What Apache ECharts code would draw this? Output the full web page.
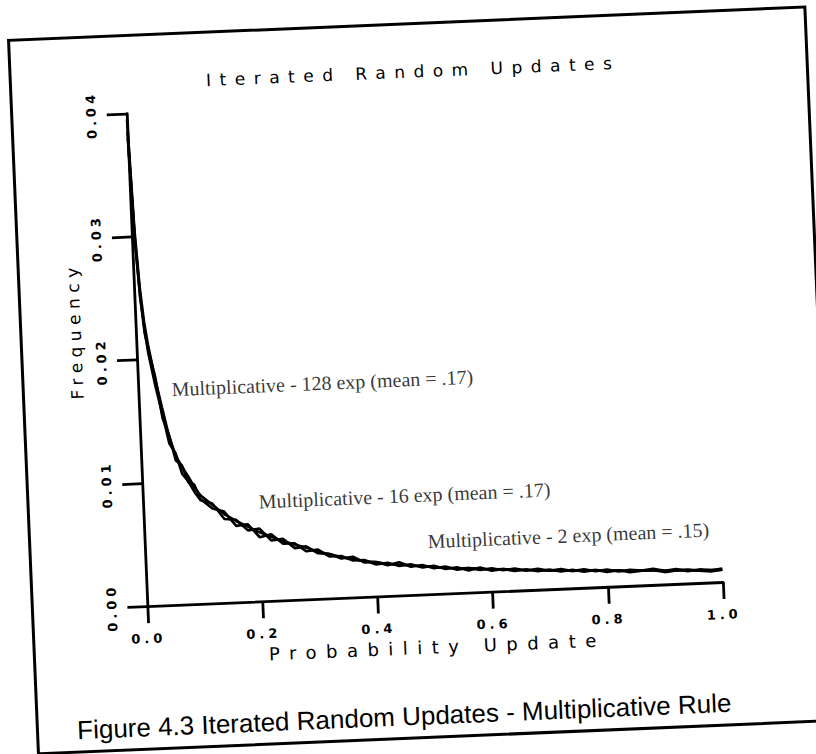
<!DOCTYPE html>
<html>
<head>
<meta charset="utf-8">
<script src="https://cdn.jsdelivr.net/npm/echarts@6/dist/echarts.min.js"></script>
<style>
html, body { margin: 0; padding: 0; background: #fff; overflow: hidden; width: 816px; height: 754px; }
/* the scanned page sits a little crooked, so the whole drawing is turned */
#chart { position: absolute; left: -22px; top: -23px; width: 860px; height: 800px;
  transform: rotate(-2.4deg); transform-origin: 50% 50%; }
</style>
</head>
<body>
<div id="chart"></div>
<script>
const titleText = 'Iterated Random Updates';
const captionText = 'Figure 4.3 Iterated Random Updates - Multiplicative Rule';
const xName = 'Probability Update';
const yName = 'Frequency';

// bin positions (probability update)
const xs = [0, 0.005, 0.01, 0.015, 0.02, 0.03, 0.04, 0.05, 0.06, 0.07, 0.08, 0.09, 0.10,
  0.12, 0.14, 0.16, 0.18, 0.20, 0.22, 0.24, 0.26, 0.28, 0.30, 0.32, 0.34, 0.36, 0.38, 0.40,
  0.42, 0.44, 0.46, 0.48, 0.50, 0.52, 0.54, 0.56, 0.58, 0.60, 0.62, 0.64, 0.66, 0.68, 0.70,
  0.72, 0.74, 0.76, 0.78, 0.80, 0.82, 0.84, 0.86, 0.88, 0.90, 0.92, 0.94, 0.96, 0.98, 1.00];

// frequencies
const exp128 = [.0395, .0305, .0258, .0230, .0212, .0184, .0160, .0137, .0121, .0112,
  .0104, .0095, .0088, .0080, .0072, .0066, .0061, .0056, .0052, .0048,
  .0045, .0042, .0038, .0036, .0033, .0031, .0029, .0028, .0026, .0025,
  .0024, .0023, .0022, .0021, .0020, .0020, .0019, .0018, .0018, .0017,
  .0016, .0016, .0015, .0015, .0014, .0014, .0014, .0013, .0013, .0012,
  .0012, .0012, .0011, .0011, .0011, .0010, .0010, .0010];
const exp16 = [.0385, .0295, .0250, .0226, .0205, .0178, .0155, .0131, .0123, .0106,
  .0100, .0091, .0084, .0081, .0068, .0067, .0058, .0059, .0049, .0050,
  .0042, .0043, .0037, .0036, .0032, .0033, .0028, .0028, .0025, .0027,
  .0023, .0024, .0021, .0022, .0019, .0020, .0018, .0019, .0017, .0018,
  .0016, .0017, .0015, .0016, .0014, .0015, .0013, .0014, .0012, .0013,
  .0012, .0013, .0011, .0012, .0010, .0011, .0010, .0011];
const exp2 = [.0380, .0298, .0252, .0222, .0208, .0186, .0152, .0138, .0117, .0113,
  .0099, .0097, .0085, .0077, .0074, .0062, .0063, .0052, .0054, .0046,
  .0046, .0039, .0040, .0034, .0034, .0030, .0030, .0026, .0027, .0024,
  .0025, .0022, .0023, .0020, .0021, .0018, .0020, .0017, .0018, .0016,
  .0017, .0015, .0016, .0014, .0015, .0013, .0014, .0012, .0013, .0011,
  .0012, .0012, .0010, .0011, .0011, .0010, .0009, .0010];

const notes = ['Multiplicative - 128 exp (mean = .17)',
  'Multiplicative - 16 exp (mean = .17)',
  'Multiplicative - 2 exp (mean = .15)'];
const notePos = [[0.057, 0.0175], [0.20, 0.0081], [0.49, 0.0043]];

const ink = '#000';
const chartDom = document.getElementById('chart');
const myChart = echarts.init(chartDom, null, { renderer: 'svg' });

const curve = (vals) => ({
  type: 'line',
  data: xs.map((x, i) => [x, vals[i]]),
  symbol: 'none',
  lineStyle: { color: ink, width: 2.6 },
  silent: true
});

const option = {
  animation: false,
  backgroundColor: '#fff',
  grid: { left: 160, right: 124, top: 125, bottom: 182 },
  xAxis: {
    type: 'value',
    min: 0,
    max: 1,
    interval: 0.2,
    name: xName,
    nameLocation: 'middle',
    nameGap: 36,
    nameTextStyle: { fontFamily: 'DejaVu Sans', fontSize: 18, color: ink },
    axisLine: { lineStyle: { color: ink, width: 2.8 } },
    axisTick: { length: 17, lineStyle: { color: ink, width: 2.8 } },
    axisLabel: {
      margin: 26,
      fontFamily: 'DejaVu Sans',
      fontWeight: 'bold',
      fontSize: 13,
      color: ink,
      formatter: (v) => v.toFixed(1)
    },
    splitLine: { show: false }
  },
  yAxis: {
    type: 'value',
    min: 0,
    max: 0.04,
    interval: 0.01,
    axisLine: { show: true, lineStyle: { color: ink, width: 2.8 } },
    axisTick: { show: true, length: 20, lineStyle: { color: ink, width: 2.8 } },
    axisLabel: {
      rotate: 90,
      margin: 29,
      fontFamily: 'DejaVu Sans',
      fontWeight: 'bold',
      fontSize: 13,
      color: ink,
      formatter: (v) => v.toFixed(2)
    },
    splitLine: { show: false }
  },
  graphic: [
    {
      type: 'rect',
      shape: { x: 45, y: 47, width: 797, height: 714 },
      style: { fill: 'none', stroke: ink, lineWidth: 3 }
    },
    {
      type: 'text',
      x: 448,
      y: 95,
      style: {
        text: titleText,
        fontFamily: 'DejaVu Sans',
        fontSize: 17,
        fill: ink,
        textAlign: 'center',
        textVerticalAlign: 'middle',
        align: 'center',
        verticalAlign: 'middle'
      }
    },
    {
      type: 'text',
      x: 99,
      y: 340,
      rotation: Math.PI / 2,
      style: {
        text: yName,
        fontFamily: 'DejaVu Sans',
        fontSize: 17,
        fill: ink,
        textAlign: 'center',
        textVerticalAlign: 'middle',
        align: 'center',
        verticalAlign: 'middle'
      }
    },
    {
      type: 'text',
      x: 412,
      y: 739,
      style: {
        text: captionText,
        fontFamily: 'Liberation Sans',
        fontSize: 26,
        fill: ink,
        textAlign: 'center',
        textVerticalAlign: 'middle',
        align: 'center',
        verticalAlign: 'middle'
      }
    }
  ],
  series: [
    curve(exp128),
    curve(exp16),
    curve(exp2),
    {
      type: 'scatter',
      silent: true,
      symbolSize: 1,
      itemStyle: { color: 'rgba(0,0,0,0)' },
      data: notePos.map((p, i) => ({ value: p, name: notes[i] })),
      label: {
        show: true,
        position: 'right',
        distance: 0,
        formatter: '{b}',
        fontFamily: 'Liberation Serif',
        fontSize: 20,
        color: ink
      }
    }
  ]
};

myChart.setOption(option);

// the plotter font is widely spaced; svg text takes letter-spacing
const spacing = (s) => {
  if (s === titleText) return '8.5px';
  if (s === xName) return '9.5px';
  if (s === yName) return '5.5px';
  if (/^\d\.\d+$/.test(s)) return '4px';
  return null;
};
const spaceLetters = () => {
  chartDom.querySelectorAll('text').forEach((t) => {
    const ls = spacing(t.textContent);
    if (ls) t.style.letterSpacing = ls;
  });
};
myChart.on('finished', spaceLetters);
setTimeout(spaceLetters, 50);
setTimeout(spaceLetters, 300);
</script>
</body>
</html>
